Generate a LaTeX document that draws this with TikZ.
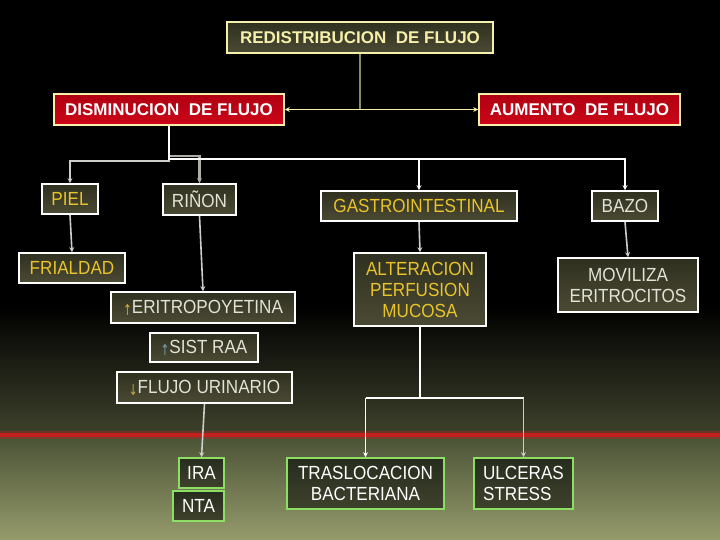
\documentclass[tikz,border=0pt]{standalone}
\usepackage{fontspec}
\setmainfont{Liberation Sans}
\newfontfamily\condfont[FakeStretch=0.9]{Liberation Sans}
\newfontfamily\arrowfont[FakeStretch=0.7]{DejaVu Sans}
\usetikzlibrary{arrows.meta,calc}
\definecolor{bgmid}{RGB}{62,66,44}
\definecolor{bgmidb}{RGB}{74,82,54}
\definecolor{bgbot}{RGB}{150,156,108}
\definecolor{redline}{RGB}{196,32,30}
\definecolor{boxtop}{RGB}{48,48,32}
\definecolor{boxbot}{RGB}{74,74,52}
\definecolor{paley}{RGB}{246,240,170}
\definecolor{goldtxt}{RGB}{232,196,42}
\definecolor{lighttxt}{RGB}{226,226,214}
\definecolor{redtop}{RGB}{176,0,18}
\definecolor{redbot}{RGB}{204,6,24}
\definecolor{greenb}{RGB}{140,222,100}
\definecolor{conncol}{RGB}{206,206,200}
\definecolor{topconn}{RGB}{138,138,96}
\definecolor{gbtop}{RGB}{40,44,30}
\definecolor{gbbot}{RGB}{62,66,44}
\newcommand{\myarrow}[2]{\raisebox{-2pt}{\arrowfont\fontsize{15}{15}\selectfont\color{#1}#2}}
\begin{document}
\begin{tikzpicture}[x=1pt,y=-1pt,
  box/.style={draw=white, line width=1.6pt, top color=boxtop, bottom color=boxbot,
    inner sep=0pt, align=center, font=\condfont\fontsize{19}{21}\selectfont},
  redbox/.style={box, draw=paley, top color=redtop, bottom color=redbot,
    text=white, font=\fontsize{17}{21}\selectfont\bfseries},
  headbox/.style={box, draw=paley, text=paley, font=\fontsize{17}{21}\selectfont\bfseries},
  gold/.style={box, text=goldtxt},
  light/.style={box, text=lighttxt},
  greenbox/.style={box, draw=greenb, top color=gbtop, bottom color=gbbot, text=white},
  conn/.style={draw=conncol, line width=1.6pt},
  arr/.style={conn, -{Stealth[length=5pt,width=5pt]}}]
\useasboundingbox (0,0) rectangle (720,540);
% background
\fill[black] (0,-1) rectangle (721,306);
\shade[top color=black, bottom color=bgmid] (0,305) rectangle (721,435.5);
\shade[top color=bgmidb, bottom color=bgbot] (0,435) rectangle (721,541);
\draw[redline, line width=8pt, opacity=0.35] (0,435) -- (720,435);
\draw[redline, line width=4pt] (0,435) -- (720,435);

% nodes
\node[headbox, minimum width=266pt, minimum height=31pt] (redis) at (360,37.5) {REDISTRIBUCION\ \ DE FLUJO};
\node[redbox, minimum width=230pt, minimum height=31pt] (dism) at (169,109.5) {DISMINUCION\ \ DE FLUJO};
\node[redbox, minimum width=201pt, minimum height=31pt] (aum) at (579.5,109.5) {AUMENTO\ \ DE FLUJO};

\node[gold, minimum width=56pt, minimum height=30pt] (piel) at (70,199) {PIEL};
\node[light, minimum width=73pt, minimum height=31pt] (rinon) at (199.5,199.5) {RIÑON};
\node[gold, minimum width=196pt, minimum height=30pt] (gastro) at (419,206) {GASTROINTESTINAL};
\node[light, minimum width=66pt, minimum height=30pt] (bazo) at (625,206) {BAZO};

\node[gold, minimum width=106pt, minimum height=30pt] (frial) at (72,268) {FRIALDAD};
\node[gold, minimum width=132pt, minimum height=73pt] (alter) at (420,289.5) {ALTERACION\\PERFUSION\\MUCOSA};
\node[light, minimum width=140pt, minimum height=54pt] (movil) at (628,285) {MOVILIZA\\ERITROCITOS};

\node[light, minimum width=184pt, minimum height=31pt] (eritro) at (203,307.5) {\myarrow{goldtxt!60!brown}{↑}ERITROPOYETINA};
\node[light, minimum width=108pt, minimum height=29pt] (sist) at (204,347.5) {\myarrow{cyan!40!gray}{↑}SIST RAA};
\node[light, minimum width=175pt, minimum height=31pt] (flujo) at (204.5,387.5) {\myarrow{goldtxt!60!gray}{↓}FLUJO URINARIO};

\node[greenbox, minimum width=45pt, minimum height=30pt] (ira) at (201.5,473) {IRA};
\node[greenbox, minimum width=51pt, minimum height=30pt] (nta) at (198.5,506) {NTA};
\node[greenbox, minimum width=157pt, minimum height=51pt] (trasl) at (365.5,483.5) {TRASLOCACION\\BACTERIANA};
\node[greenbox, minimum width=99pt, minimum height=51pt, align=left] (ulc) at (523.5,483.5) {ULCERAS\\STRESS};

% top connectors
\draw[draw=topconn, line width=2pt] (redis.south) -- (redis.south |- dism.east);
\draw[draw=paley, line width=1.4pt, {Stealth[length=5pt,width=5pt]}-{Stealth[length=5pt,width=5pt]}] (dism.east) -- (aum.west);

% disminucion branches
\coordinate (j1) at ($(dism.south)+(0,33)$);
\draw[arr] (dism.south) -- ++(0,35) -| (piel.north);
\draw[arr, draw=conncol!85!black, line width=2.4pt] (dism.south) -- ++(0,30) -| (rinon.north);
\draw[arr, draw=white] (dism.south) -- (j1) -| (bazo.north);
\draw[arr, draw=white] (j1 -| gastro.north) -- (gastro.north);

% downward arrows
\draw[arr] (piel.south) -- (frial.north);
\draw[arr] (rinon.south) -- (eritro.north);
\draw[arr] (gastro.south) -- (alter.north);
\draw[arr] (bazo.south) -- (movil.north);
\draw[arr] (flujo.south) -- (ira.north);

% alteracion branches
\coordinate (j2) at ($(alter.south)+(0,71)$);
\draw[conn, draw=white] (alter.south) -- (j2);
\draw[conn, draw=white] (trasl.north |- j2) -- (ulc.north |- j2);
\draw[arr, draw=white] (trasl.north |- j2) -- (trasl.north);
\draw[arr] (ulc.north |- j2) -- (ulc.north);
\end{tikzpicture}
\end{document}
